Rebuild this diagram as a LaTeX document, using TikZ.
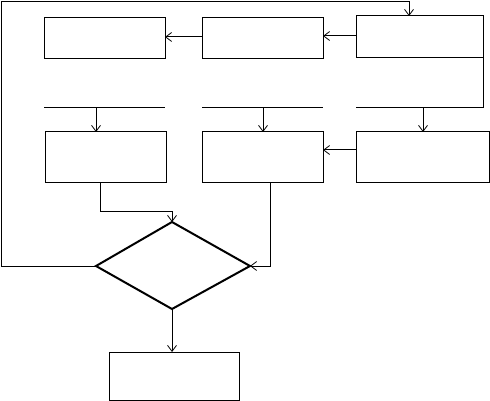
\documentclass[tikz,border=0pt]{standalone}
\usetikzlibrary{arrows.meta}
\begin{document}
\begin{tikzpicture}[x=1pt,y=-1pt,
  box/.style={draw,line width=1pt,minimum width=#1,minimum height=41pt,inner sep=0pt,outer sep=0pt,anchor=north west},
  conn/.style={line width=1pt,-{Straight Barb[length=6pt,width=9pt,line width=0.8pt]}},
  plain/.style={line width=1pt}]
\useasboundingbox (0,0) rectangle (490,401);
% top row
\node[box=121pt] (A) at (44,18) {};
\node[box=121pt] (B) at (202,18) {};
\node[box=127pt,minimum height=42pt] (C) at (356,16) {};
% bars
\coordinate (a1) at (44,108); \coordinate (a2) at (165,108);
\coordinate (b1) at (202,108); \coordinate (b2) at (323,108);
\coordinate (c1) at (356,108); \coordinate (c2) at (483,108);
\draw[plain] (a1) -- (a2);
\draw[plain] (b1) -- (b2);
\draw[plain] (c1) -- (c2) -- (C.south east);
% bottom row
\node[box=121pt,minimum height=50pt] (D) at (45,132) {};
\node[box=121pt,minimum height=50pt] (E) at (202,132) {};
\node[box=133pt,minimum height=50pt] (F) at (356,132) {};
% diamond
\coordinate (dt) at (172,222); \coordinate (dl) at (96,266);
\coordinate (dr) at (250,266); \coordinate (db) at (172,309);
\draw[line width=2pt,line join=miter] (dt) -- (dr) -- (db) -- (dl) -- cycle;
% final box
\node[box=130pt,minimum height=48pt] (G) at (109.5,352) {};
% connectors
\draw[conn] (C.west |- 0,36) -- (B.east |- 0,36);
\draw[conn] (B.west |- 0,37) -- (A.east |- 0,37);
\draw[conn] (F.west |- 0,150) -- (E.east |- 0,150);
\draw[conn] (96,108) -- (D.north -| 96,0);
\draw[conn] (263,108) -- (E.north -| 263,0);
\draw[conn] (423,108) -- (F.north -| 423,0);
\coordinate (d1) at (100,211);
\draw[conn] (D.south -| d1) -- (d1) -- (dt |- d1) -- (dt);
\draw[conn] (E.south -| 270,0) -- (270,266) -- (dr);
\draw[conn] (dl) -- (1,266) -- (1,2) -- (409,2) -- (C.north -| 409,0);
\draw[conn] (db) -- (G.north -| 172,0);
\end{tikzpicture}
\end{document}
